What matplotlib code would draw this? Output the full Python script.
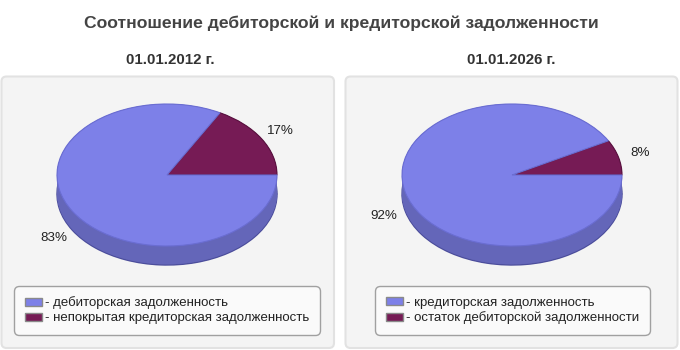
import numpy as np
import matplotlib
matplotlib.use('Agg')
import matplotlib.pyplot as plt
from matplotlib.patches import FancyBboxPatch, Patch

plt.rcParams['font.family'] = ['Liberation Sans', 'DejaVu Sans']

title = 'Соотношение дебиторской и кредиторской задолженности'
dates = ['01.01.2012 г.', '01.01.2026 г.']

# shares, in %, first slice = maroon (starts at 0 deg), second = blue
left_values = [17, 83]
left_labels = ['непокрытая кредиторская задолженность', 'дебиторская задолженность']
right_values = [8, 92]
right_labels = ['остаток дебиторской задолженности', 'кредиторская задолженность']

top_colors = ['#761b55', '#7d80e8']
side_colors = ['#5c1442', '#6466b9']
edge_colors = ['#5a1240', '#6a6dd2']

W, H = 680, 350
fig = plt.figure(figsize=(W / 100, H / 100), dpi=100)
fig.patch.set_facecolor('white')

# background layer in pixel coords
bg = fig.add_axes([0, 0, 1, 1])
bg.set_xlim(0, W)
bg.set_ylim(H, 0)
bg.axis('off')

for x0, x1 in [(1.5, 334), (345.5, 677.5)]:
    bg.add_patch(FancyBboxPatch((x0 + 5, 76.5 + 5), x1 - x0 - 10, 348 - 76.5 - 10,
                                boxstyle='round,pad=5', fc='#f4f4f4', ec='#e2e2e2', lw=1.5))

fig.text(341 / W, 1 - 23.5 / H, title, ha='center', va='center', fontsize=12.6,
         fontweight='bold', color='#444444')
for cx, d in zip([170, 511], dates):
    fig.text(cx / W, 1 - 60.5 / H, d, ha='center', va='center', fontsize=10.8,
             fontweight='bold', color='#333333')

depth = 19 / 71  # side height relative to vertical radius


def draw_pie(cx, values, labels, legend_x):
    rx, ry, cy = 110, 71, 175
    ax = fig.add_axes([(cx - rx) / W, (H - cy - ry - 19) / H, 2 * rx / W, (2 * ry + 19) / H])
    # bottom rim with outline
    ax.pie(values, colors=side_colors, startangle=0, center=(0, -depth),
           wedgeprops=dict(lw=1.0, edgecolor='#4c4e9c'))
    # side of the disc
    for t in np.linspace(-depth + 0.01, 0, 30):
        ax.pie(values, colors=side_colors, startangle=0, center=(0, t),
               wedgeprops=dict(lw=0))
    wedges, _ = ax.pie(values, colors=top_colors, startangle=0,
                       wedgeprops=dict(lw=0.8))
    for w, ec in zip(wedges, edge_colors):
        w.set_edgecolor(ec)
    ax.set_aspect('auto')
    ax.set_xlim(-1, 1)
    ax.set_ylim(-1 - depth, 1)
    ax.axis('off')

    for w, v in zip(wedges, values):
        mid = np.deg2rad((w.theta1 + w.theta2) / 2)
        lx, ly = 1.2 * np.cos(mid), 1.22 * np.sin(mid)
        if ly < 0:
            ly -= depth
        ax.text(lx, ly, f'{v}%', ha='center', va='center', fontsize=9.6, color='#222222')

    handles = [Patch(facecolor=top_colors[1], edgecolor='#8a8a8a', lw=1),
               Patch(facecolor=top_colors[0], edgecolor='#8a8a8a', lw=1)]
    texts = ['- ' + labels[1], '- ' + labels[0]]
    leg = fig.legend(handles, texts, loc='upper left',
                     bbox_to_anchor=(legend_x / W, 1 - 286 / H), fontsize=9.5,
                     frameon=True, fancybox=True, framealpha=1, facecolor='#fafafa',
                     edgecolor='#a0a0a0', handlelength=1.35, handleheight=0.6,
                     handletextpad=0.2, labelspacing=0.22, borderpad=0.8,
                     borderaxespad=0)
    leg.get_frame().set_linewidth(1.0)
    leg.get_frame().set_boxstyle('round,pad=0,rounding_size=0.4')
    for t in leg.get_texts():
        t.set_color('#222222')


draw_pie(167, left_values, left_labels, 14)
draw_pie(512, right_values, right_labels, 375)

fig.savefig('out.png', dpi=100, facecolor='white')
